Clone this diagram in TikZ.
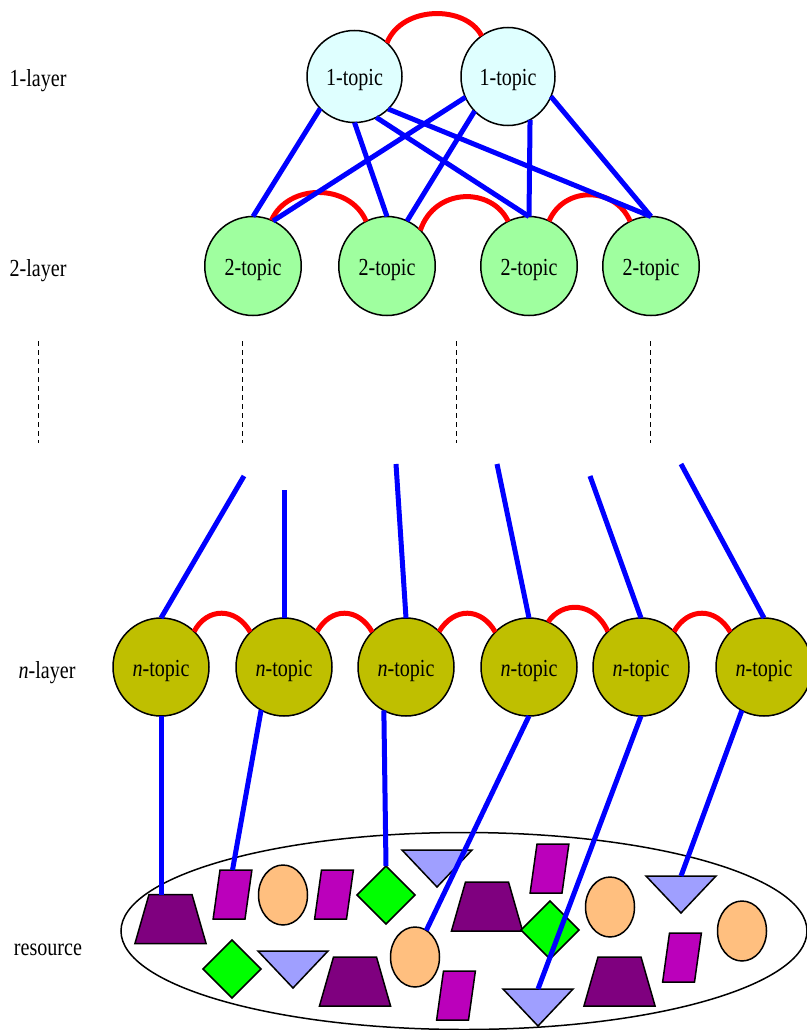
\documentclass[tikz,border=0pt]{standalone}
\usepackage{fontspec}
\setmainfont[FakeStretch=0.82]{Liberation Serif}
\usetikzlibrary{shapes.geometric}
\definecolor{cA}{HTML}{DFFFFF}
\definecolor{cB}{HTML}{9FFF9F}
\definecolor{cN}{HTML}{BFBF00}
\definecolor{cTrap}{HTML}{7F007F}
\definecolor{cPar}{HTML}{BB00BB}
\definecolor{cEll}{HTML}{FFBF7F}
\definecolor{cTri}{HTML}{9F9FFF}
\tikzset{
  base/.style={draw=black,line width=1.5pt,inner sep=0pt,outer sep=0pt},
  topic/.style={base,ellipse,font=\fontsize{24.5}{28}\selectfont,text height=20pt,text depth=2pt},
  oneL/.style={topic,minimum width=95pt,minimum height=92pt,fill=cA},
  oneR/.style={topic,minimum width=94pt,minimum height=98pt,fill=cA},
  two/.style={topic,minimum width=96.5pt,minimum height=99pt,fill=cB},
  enn/.style={topic,minimum width=96pt,minimum height=98pt,fill=cN},
  lab/.style={font=\fontsize{24.5}{28}\selectfont,inner sep=0pt,anchor=base},
  trap/.style={base,fill=cTrap,trapezium,trapezium left angle=74,trapezium right angle=74,text width=43pt,text height=49pt,text depth=0pt},
  para/.style={base,fill=cPar,trapezium,trapezium left angle=82,trapezium right angle=98,text width=25pt,text height=49pt,text depth=0pt},
  oval/.style={base,fill=cEll,ellipse,minimum width=49pt,minimum height=60pt},
  dia/.style={base,fill=green,diamond,minimum width=58pt,minimum height=58pt},
  tri/.style={base,inner sep=1pt,fill=cTri,isosceles triangle,isosceles triangle stretches=true,shape border rotate=-90,minimum width=70pt,minimum height=37pt,anchor=north},
  blue line/.style={draw=blue,line width=5pt},
  red arc/.style={draw=red,line width=5pt},
  dash line/.style={draw=black,line width=0.9pt,dash pattern=on 5pt off 4pt},
}
\begin{document}
\begin{tikzpicture}[x=1pt,y=-1pt]
\useasboundingbox (0,0) rectangle (806,1030);
% labels
\node[lab] (l1) at (38,87) {1-layer};
\node[lab] (l2) at (38,276) {2-layer};
\node[lab] (ln) at (47,678) {\textit{n}-layer};
\node[lab] (lr) at (48,955) {resource};
% topics
\node[oneL] (A) at (354.5,76.5) {1-topic};
\node[oneR] (B) at (508,76.5) {1-topic};
\node[two] (a) at (253,266) {2-topic};
\node[two] (b) at (387,266) {2-topic};
\node[two] (c) at (529,266) {2-topic};
\node[two] (d) at (651,266) {2-topic};
\node[enn] (n1) at (161,667) {\textit{n}-topic};
\node[enn] (n2) at (284,667) {\textit{n}-topic};
\node[enn] (n3) at (406,667) {\textit{n}-topic};
\node[enn] (n4) at (529,667) {\textit{n}-topic};
\node[enn] (n5) at (641,667) {\textit{n}-topic};
\node[enn] (n6) at (764,667) {\textit{n}-topic};
% resource set
\node[base,ellipse,minimum width=686pt,minimum height=197pt] (res) at (464,931) {};
\node[trap] (t1) at (170.5,919) {};
\node[trap] (t2) at (487,906.5) {};
\node[trap] (t3) at (355,981.5) {};
\node[trap] (t4) at (619.5,981.5) {};
\node[para] (p1) at (232.5,894.5) {};
\node[para] (p2) at (334,894.5) {};
\node[para] (p3) at (549.5,868.5) {};
\node[para] (p4) at (682,957.5) {};
\node[para] (p5) at (456,995.5) {};
\node[oval] (e1) at (283,895) {};
\node[oval] (e2) at (415,957) {};
\node[oval] (e3) at (610,907) {};
\node[oval] (e4) at (742,931) {};
\node[dia] (g1) at (386,895) {};
\node[dia] (g2) at (232,969) {};
\node[dia] (g3) at (550,930) {};
\node[tri] (v1) at (437,850) {};
\node[tri] (v2) at (293,951) {};
\node[tri] (v3) at (538,989) {};
\node[tri] (v4) at (681,876) {};
% free ends
\coordinate (f1) at (244,476);
\coordinate (f2) at (284,490);
\coordinate (f3) at (396,464);
\coordinate (f4) at (497,464);
\coordinate (f5) at (590,476);
\coordinate (f6) at (681,464);
\coordinate (u1) at (38,341);  \coordinate (w1) at (38,443);
\coordinate (u2) at (242,341); \coordinate (w2) at (242,443);
\coordinate (u3) at (456,341); \coordinate (w3) at (456,443);
\coordinate (u4) at (650,341); \coordinate (w4) at (650,443);
% dashed
\foreach \i in {1,2,3,4} \draw[dash line] (u\i) -- (w\i);
% red
\draw[red arc] (A.46) .. controls (402,5) and (466,5) .. (B.123);
\draw[red arc] (a.68) .. controls (288,183) and (350,183) .. (b.115);
\draw[red arc] (b.47) .. controls (435,187) and (492,187) .. (c.115);
\draw[red arc] (c.66) .. controls (564,186) and (615,186) .. (d.115);
\draw[red arc] (n1.47) .. controls (207,607) and (236,607) .. (n2.134);
\draw[red arc] (n2.47) .. controls (331,607) and (358,607) .. (n3.134);
\draw[red arc] (n3.47) .. controls (454,607) and (481,607) .. (n4.134);
\draw[red arc] (n4.67) .. controls (562,601) and (594,601) .. (n5.133);
\draw[red arc] (n5.47) .. controls (688,607) and (716,607) .. (n6.134);
% blue upper
\draw[blue line] (A.-137) -- (a.90);
\draw[blue line] (A.-90) -- (b.90);
\draw[blue line] (A.-62) -- (c.90);
\draw[blue line] (A.-44) -- (d.90);
\draw[blue line] (B.-154) -- (a.66);
\draw[blue line] (B.-134) -- (b.66);
\draw[blue line] (B.-63) -- (c.90);
\draw[blue line] (B.-25) -- (d.90);
% blue free
\draw[blue line] (n1.90) -- (f1);
\draw[blue line] (n2.90) -- (f2);
\draw[blue line] (n3.90) -- (f3);
\draw[blue line] (n4.90) -- (f4);
\draw[blue line] (n5.90) -- (f5);
\draw[blue line] (n6.90) -- (f6);
% blue lower
\draw[blue line] (n1.-90) -- (t1.north -| n1);
\draw[blue line] (n2.-118) -- (p1.north);
\draw[blue line] (n3.-117) -- (g1.north);
\draw[blue line] (n4.-90) -- (e2.67);
\draw[blue line] (n5.-90) -- (v3.north);
\draw[blue line] (n6.-117) -- (v4.north);
\end{tikzpicture}
\end{document}
